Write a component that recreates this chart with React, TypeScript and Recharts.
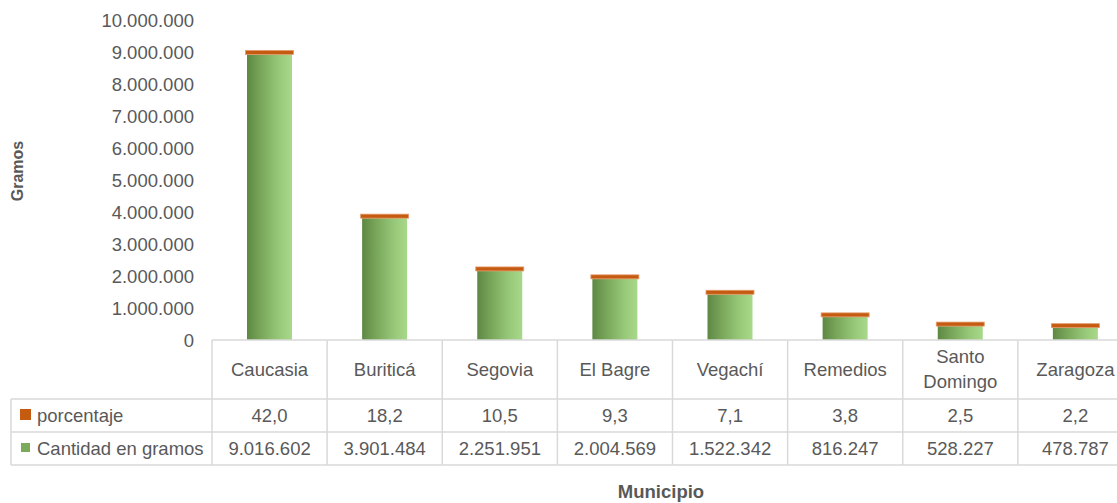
import React from 'react';
import { BarChart, Bar, XAxis, YAxis } from 'recharts';

const categories = ['Caucasia', 'Buriticá', 'Segovia', 'El Bagre', 'Vegachí', 'Remedios', 'Santo Domingo', 'Zaragoza'];
const gramos = [9016602, 3901484, 2251951, 2004569, 1522342, 816247, 528227, 478787];
const porcentaje = [42.0, 18.2, 10.5, 9.3, 7.1, 3.8, 2.5, 2.2];
const yTicks = [0, 1000000, 2000000, 3000000, 4000000, 5000000, 6000000, 7000000, 8000000, 9000000, 10000000];
const seriesNames = ['porcentaje', 'Cantidad en gramos'];

const data = categories.map((c, i) => ({ name: c, gramos: gramos[i], porcentaje: porcentaje[i] }));

const CHART_W = 1133;
const CHART_H = 503;
const Y_W = 212;
const TOP = 20;
const X_H = 163;
const BAND = (CHART_W - Y_W) / categories.length;
const FONT = '"Liberation Sans", Arial, sans-serif';
const TXT = '#595959';
const LINE = '#d9d9d9';
const FS = 18.5;

const fmtThousands = (v: number) => Math.round(v).toString().replace(/\B(?=(\d{3})+(?!\d))/g, '.');
const fmtPct = (v: number) => v.toFixed(1).replace('.', ',');

const BarShape = (props: any) => {
  const { x, y, width, height } = props;
  if (height == null || width == null) return null;
  return (
    <g>
      <rect x={x} y={y + 3} width={width} height={Math.max(0, height - 3)} fill="url(#greenGrad)" />
      <rect x={x - 1.5} y={y - 1} width={width + 3} height={4} fill="#c55a11" stroke="#e59a6a" strokeWidth={0.8} />
    </g>
  );
};

const TableTick = (props: any) => {
  const { x, y, payload, index } = props;
  const left = x - BAND / 2;
  const right = x + BAND / 2;
  const top = y;
  const r1 = top + 59;
  const r2 = top + 92;
  const r3 = top + 125;
  const label: string = payload.value;
  const lines = label.length > 10 ? label.split(' ') : [label];
  const i = categories.indexOf(label);
  return (
    <g fontFamily={FONT} fontSize={FS} fill={TXT}>
      <line x1={left} x2={right} y1={top} y2={top} stroke={LINE} strokeWidth={1.5} />
      <line x1={left} x2={right} y1={r1} y2={r1} stroke={LINE} strokeWidth={1.5} />
      <line x1={left} x2={right} y1={r2} y2={r2} stroke={LINE} strokeWidth={1.5} />
      <line x1={left} x2={right} y1={r3} y2={r3} stroke={LINE} strokeWidth={1.5} />
      <line x1={right} x2={right} y1={top} y2={r3} stroke={LINE} strokeWidth={1.5} />
      {index === 0 && (
        <g>
          <line x1={left} x2={left} y1={top} y2={r3} stroke={LINE} strokeWidth={1.5} />
          <line x1={11} x2={left} y1={r1} y2={r1} stroke={LINE} strokeWidth={1.5} />
          <line x1={11} x2={left} y1={r2} y2={r2} stroke={LINE} strokeWidth={1.5} />
          <line x1={11} x2={left} y1={r3} y2={r3} stroke={LINE} strokeWidth={1.5} />
          <line x1={11} x2={11} y1={r1} y2={r3} stroke={LINE} strokeWidth={1.5} />
          <rect x={20} y={r1 + 10} width={11} height={11} fill="#c55a11" />
          <text x={37} y={r1 + 16} dy={6.5} fill={TXT}>{seriesNames[0]}</text>
          <rect x={21} y={r2 + 11} width={9} height={9} fill="#7bab5a" />
          <text x={37} y={r2 + 16} dy={6.5} fill={TXT}>{seriesNames[1]}</text>
        </g>
      )}
      {lines.length === 1 ? (
        <text x={x} y={top + 29} dy={6.5} textAnchor="middle" fill={TXT}>{lines[0]}</text>
      ) : (
        lines.map((l, k) => (
          <text key={k} x={x} y={top + 16 + k * 25} dy={6.5} textAnchor="middle" fill={TXT}>{l}</text>
        ))
      )}
      <text x={x} y={r1 + 16} dy={6.5} textAnchor="middle" fill={TXT}>{fmtPct(porcentaje[i])}</text>
      <text x={x} y={r2 + 16} dy={6.5} textAnchor="middle" fill={TXT}>{fmtThousands(gramos[i])}</text>
    </g>
  );
};

const GramosLabel = () => (
  <text x={23} y={171} transform="rotate(-90, 23, 171)" textAnchor="middle" fontFamily={FONT} fontWeight="bold" fontSize={16} fill={TXT}>Gramos</text>
);

const MunicipioLabel = () => (
  <text x={661} y={498} textAnchor="middle" fontFamily={FONT} fontWeight="bold" fontSize={18.5} fill={TXT}>Municipio</text>
);

export default function App() {
  return (
    <div style={{ position: 'absolute', left: 0, top: 0, width: 1117, height: 503, overflow: 'hidden', background: '#fff' }}>
      <BarChart width={CHART_W} height={CHART_H} data={data} margin={{ top: TOP, right: 0, bottom: 0, left: 0 }} barSize={45}>
        <defs>
          <linearGradient id="greenGrad" x1="0" y1="0" x2="1" y2="0">
            <stop offset="0%" stopColor="#5d8843" />
            <stop offset="35%" stopColor="#7caa5d" />
            <stop offset="75%" stopColor="#9acb7b" />
            <stop offset="100%" stopColor="#a8d98a" />
          </linearGradient>
        </defs>
        <XAxis
          dataKey="name"
          height={X_H}
          interval={0}
          tickLine={false}
          axisLine={false}
          tickSize={0}
          tickMargin={0}
          tick={<TableTick />}
          label={<MunicipioLabel />}
        />
        <YAxis
          width={Y_W}
          domain={[0, 10000000]}
          ticks={yTicks}
          interval={0}
          tickLine={false}
          axisLine={false}
          tickSize={0}
          tickMargin={18}
          tickFormatter={fmtThousands}
          tick={{ fill: TXT, fontSize: FS, fontFamily: FONT }}
          label={<GramosLabel />}
        />
        <Bar dataKey="gramos" shape={<BarShape />} isAnimationActive={false} />
      </BarChart>
    </div>
  );
}
